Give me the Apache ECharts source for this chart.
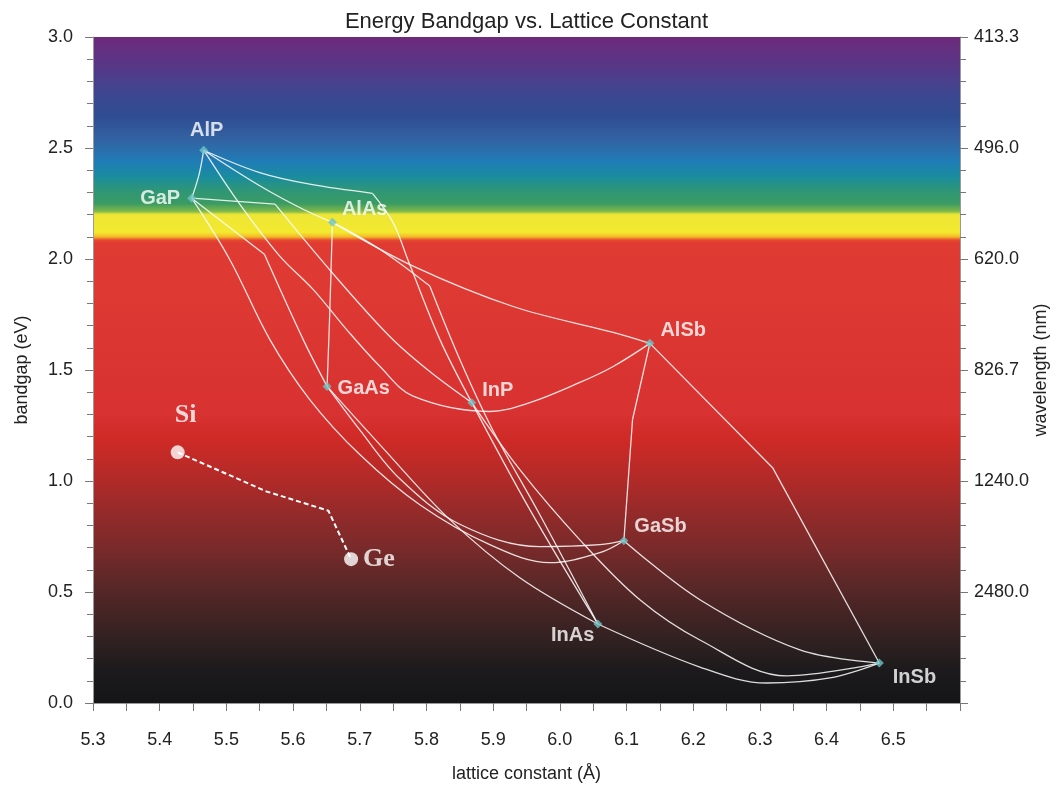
<!DOCTYPE html>
<html>
<head>
    <meta charset="utf-8">
    <title>Energy Bandgap vs. Lattice Constant</title>
    <script src="https://cdn.jsdelivr.net/npm/echarts@6/dist/echarts.min.js"></script>
    <style>
        html, body { margin: 0; padding: 0; background: #fff; }
    </style>
</head>
<body>
    <div id="main" style="width: 1053px;height:787px;"></div>
    <script type="text/javascript">
        // binary compounds: lattice constant (A) and bandgap (eV)
        var compounds = ['AlP', 'GaP', 'AlAs', 'GaAs', 'InP', 'AlSb', 'GaSb', 'InAs', 'InSb'];
        var latticeA  = [5.466, 5.448, 5.659, 5.651, 5.868, 6.135, 6.096, 6.057, 6.479];
        var bandgapEv = [2.490, 2.274, 2.165, 1.426, 1.353, 1.620, 0.731, 0.356, 0.180];

        // elements
        var elements = ['Si', 'Ge'];
        var elemLattice = [5.427, 5.687];
        var elemGap = [1.129, 0.648];
        var siGePath = [[5.427, 1.129], [5.560, 0.953], [5.653, 0.866], [5.687, 0.648]];

        // ternary alloy curves (kinks split into pieces)
        var AlP_GaP   = [[5.466, 2.490], [5.459, 2.380], [5.448, 2.274]];
        var AlP_AlAs  = [[5.466, 2.490], [5.550, 2.330], [5.615, 2.224], [5.659, 2.165]];
        var AlP_InP_a = [[5.466, 2.490], [5.550, 2.389], [5.625, 2.337], [5.719, 2.296]];
        var AlP_InP_b = [[5.719, 2.296], [5.750, 2.164], [5.772, 1.998], [5.820, 1.638], [5.868, 1.353]];
        var AlP_AlSb  = [[5.466, 2.490], [5.520, 2.247], [5.580, 2.013], [5.630, 1.863], [5.680, 1.683],
                         [5.730, 1.517], [5.780, 1.382], [5.895, 1.313], [5.955, 1.353], [6.030, 1.444],
                         [6.080, 1.516], [6.135, 1.620]];
        var GaP_InP_a = [[5.448, 2.274], [5.573, 2.247]];
        var GaP_InP_b = [[5.573, 2.247], [5.659, 1.937], [5.745, 1.651], [5.805, 1.493], [5.868, 1.353]];
        var GaP_GaAs_a = [[5.448, 2.274], [5.557, 2.021]];
        var GaP_GaAs_b = [[5.557, 2.021], [5.615, 1.638], [5.651, 1.426]];
        var GaP_GaSb  = [[5.448, 2.274], [5.505, 1.998], [5.565, 1.638], [5.625, 1.367], [5.700, 1.119],
                         [5.790, 0.893], [5.895, 0.713], [5.985, 0.632], [6.060, 0.677], [6.096, 0.731]];
        var AlAs_GaAs = [[5.659, 2.165], [5.655, 1.758], [5.651, 1.426]];
        var AlAs_AlSb = [[5.659, 2.165], [5.780, 1.968], [5.930, 1.786], [6.080, 1.669], [6.135, 1.620]];
        var AlAs_InAs_a = [[5.659, 2.165], [5.730, 2.044], [5.805, 1.878]];
        var AlAs_InAs_b = [[5.805, 1.878], [5.850, 1.547], [5.899, 1.232], [5.970, 0.848], [6.057, 0.356]];
        var GaAs_GaSb = [[5.651, 1.426], [5.700, 1.230], [5.760, 1.010], [5.850, 0.805], [5.970, 0.704],
                         [6.060, 0.713], [6.096, 0.731]];
        var GaAs_InAs = [[5.651, 1.426], [5.730, 1.164], [5.835, 0.826], [5.940, 0.564], [6.057, 0.356]];
        var InP_InAs  = [[5.868, 1.353], [5.955, 0.871], [6.057, 0.356]];
        var InP_InSb  = [[5.868, 1.353], [5.940, 1.051], [6.030, 0.735], [6.120, 0.465], [6.210, 0.284],
                         [6.340, 0.122], [6.479, 0.180]];
        var InAs_InSb = [[6.057, 0.356], [6.210, 0.162], [6.310, 0.090], [6.405, 0.113], [6.479, 0.180]];
        var GaSb_InSb = [[6.096, 0.731], [6.210, 0.465], [6.360, 0.239], [6.479, 0.180]];
        var AlSb_GaSb_a = [[6.135, 1.620], [6.109, 1.277]];
        var AlSb_GaSb_b = [[6.109, 1.277], [6.096, 0.731]];
        var AlSb_InSb_a = [[6.135, 1.620], [6.319, 1.060]];
        var AlSb_InSb_b = [[6.319, 1.060], [6.479, 0.180]];

        var curves = [AlP_GaP, AlP_AlAs, AlP_InP_a, AlP_InP_b, AlP_AlSb, GaP_InP_a, GaP_InP_b,
            GaP_GaAs_a, GaP_GaAs_b, GaP_GaSb, AlAs_GaAs, AlAs_AlSb, AlAs_InAs_a, AlAs_InAs_b,
            GaAs_GaSb, GaAs_InAs, InP_InAs, InP_InSb, InAs_InSb, GaSb_InSb,
            AlSb_GaSb_a, AlSb_GaSb_b, AlSb_InSb_a, AlSb_InSb_b];

        // background spectrum: bandgap (eV) -> colour
        var spectrum = [
            [3.00, '#6e2a7b'], [2.89, '#5b3585'], [2.73, '#3b4891'], [2.64, '#2f4d92'],
            [2.54, '#3362a2'], [2.44, '#1f7cb6'], [2.37, '#1a8c9e'], [2.31, '#2e9677'],
            [2.25, '#3a9b63'], [2.215, '#7fb84a'], [2.20, '#eee636'], [2.12, '#f3e92f'],
            [2.10, '#f4b828'], [2.085, '#e6482f'], [2.07, '#df3b33'], [1.90, '#de3a33'],
            [1.30, '#d83131'], [1.19, '#cf2a26'], [1.00, '#b02a28'], [0.86, '#952a2a'],
            [0.70, '#7a2a2a'], [0.555, '#5e2828'], [0.405, '#452424'], [0.25, '#2c2020'],
            [0.15, '#1c1a1c'], [0.00, '#151517']
        ];

        var myChart = echarts.init(document.getElementById('main'));

        var stops = spectrum.map(function (s) { return { offset: (3 - s[0]) / 3, color: s[1] }; });

        var series = [];
        curves.forEach(function (c) {
            series.push({
                type: 'line',
                data: c,
                smooth: 0.35,
                symbol: 'none',
                silent: true,
                lineStyle: { color: 'rgba(255,255,255,0.85)', width: 1.3 }
            });
        });

        series.push({
            type: 'line',
            data: siGePath,
            symbol: 'none',
            silent: true,
            lineStyle: { color: '#ffffff', width: 2, type: [5, 3] }
        });

        var labelPos = {
            AlP:  { position: 'top', offset: [3, 0] },
            GaP:  { position: 'left', offset: [-2, 0] },
            AlAs: { position: 'right', offset: [0, -13] },
            GaAs: { position: 'right', offset: [1, 2] },
            InP:  { position: 'right', offset: [1, -12] },
            AlSb: { position: 'right', offset: [1, -13] },
            GaSb: { position: 'right', offset: [1, -14] },
            InAs: { position: 'left', offset: [6, 12] },
            InSb: { position: 'right', offset: [4, 14] }
        };

        series.push({
            type: 'scatter',
            symbol: 'diamond',
            symbolSize: 9,
            itemStyle: { color: '#6fc3c6' },
            z: 5,
            data: compounds.map(function (n, i) {
                return {
                    value: [latticeA[i], bandgapEv[i]],
                    name: n,
                    label: {
                        show: true,
                        formatter: n,
                        position: labelPos[n].position,
                        offset: labelPos[n].offset,
                        color: '#ffffff',
                        fontSize: 20,
                        fontWeight: 'bold',
                        fontFamily: 'Liberation Sans'
                    }
                };
            })
        });

        series.push({
            type: 'scatter',
            symbol: 'circle',
            symbolSize: 14,
            itemStyle: { color: '#ffffff' },
            z: 6,
            data: elements.map(function (n, i) {
                return {
                    value: [elemLattice[i], elemGap[i]],
                    label: {
                        show: true,
                        formatter: n,
                        position: n === 'Si' ? 'top' : 'right',
                        offset: n === 'Si' ? [8, -12] : [0, 0],
                        color: '#ffffff',
                        fontSize: 26,
                        fontWeight: 'bold',
                        fontFamily: 'Liberation Serif'
                    }
                };
            })
        });

        var axisFont = { color: '#222', fontSize: 18, fontFamily: 'Liberation Sans' };

        var option = {
            animation: false,
            title: {
                text: 'Energy Bandgap vs. Lattice Constant',
                left: 'center',
                top: 6,
                textStyle: { color: '#222', fontSize: 22, fontWeight: 'normal', fontFamily: 'Liberation Sans' }
            },
            grid: {
                left: 93, right: 93, top: 37, bottom: 84,
                containLabel: false,
                outerBoundsMode: 'none',
                show: true,
                borderWidth: 0,
                backgroundColor: new echarts.graphic.LinearGradient(0, 0, 0, 1, stops)
            },
            xAxis: {
                type: 'value',
                min: 5.3, max: 6.6, interval: 0.1,
                name: 'lattice constant (\u00c5)',
                nameLocation: 'middle',
                nameGap: 62,
                nameMoveOverlap: false,
                nameTextStyle: axisFont,
                axisLine: { lineStyle: { color: '#999' } },
                axisTick: { inside: false, length: 8, lineStyle: { color: '#777' } },
                minorTick: { show: true, splitNumber: 2, length: 8, lineStyle: { color: '#777' } },
                splitLine: { show: false },
                axisLabel: Object.assign({
                    margin: 28,
                    formatter: function (v) { return v > 6.55 ? '' : v.toFixed(1); }
                }, axisFont)
            },
            yAxis: [{
                type: 'value',
                min: 0, max: 3, interval: 0.5,
                name: 'bandgap (eV)',
                nameLocation: 'middle',
                nameGap: 62,
                nameMoveOverlap: false,
                nameTextStyle: axisFont,
                axisLine: { show: true, lineStyle: { color: '#999' } },
                axisTick: { show: true, length: 8, lineStyle: { color: '#777' } },
                minorTick: { show: true, splitNumber: 5, length: 6, lineStyle: { color: '#777' } },
                splitLine: { show: false },
                axisLabel: Object.assign({
                    margin: 20,
                    formatter: function (v) { return v.toFixed(1); }
                }, axisFont)
            }, {
                type: 'value',
                position: 'right',
                min: 0, max: 3, interval: 0.5,
                name: 'wavelength (nm)',
                nameLocation: 'middle',
                nameGap: 72,
                nameRotate: 90,
                nameMoveOverlap: false,
                nameTextStyle: axisFont,
                axisLine: { show: true, lineStyle: { color: '#999' } },
                axisTick: { show: true, length: 8, lineStyle: { color: '#777' } },
                minorTick: { show: true, splitNumber: 5, length: 6, lineStyle: { color: '#777' } },
                splitLine: { show: false },
                axisLabel: Object.assign({
                    margin: 14,
                    formatter: function (v) { return v === 0 ? '' : (1240 / v).toFixed(1); }
                }, axisFont)
            }],
            series: series
        };

        myChart.setOption(option);
    </script>
</body>
</html>
